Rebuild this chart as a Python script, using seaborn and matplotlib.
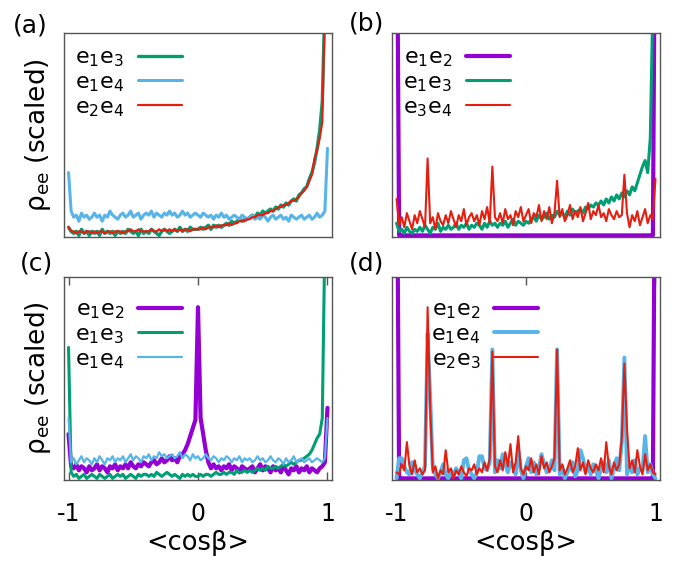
import numpy as np
import pandas as pd
import matplotlib
matplotlib.use("Agg")
import matplotlib.pyplot as plt
import seaborn as sns

nan = np.nan
# bin centres of <cos beta>
cos_beta = np.round(np.linspace(-1.0, 1.0, 101), 2)

# ---------------- panel (a) ----------------
a_e1e3 = [4, 2, 1, 2, 0, 3, 1, 2, 0, 2,
          1, 2, 0, 3, 1, 2, 1, 2, 0, 2,
          1, 2, 1, 3, 2, 1, 2, 0, 3, 1,
          2, 1, 3, 2, 1, 0, 2, 3, 2, 1,
          2, 3, 2, 4, 2, 3, 2, 4, 3, 3,
          3, 4, 3, 4, 5, 3, 5, 4, 5, 4,
          5, 6, 5, 7, 6, 7, 8, 7, 8, 8,
          9, 10, 9, 11, 10, 12, 11, 12, 13, 12,
          14, 13, 15, 14, 16, 15, 17, 18, 17, 20,
          21, 23, 24, 28, 31, 36, 43, 52, 66, 115,
          nan]
a_e1e4 = [31, 12, 9, 10, 7, 11, 9, 10, 8, 9,
          11, 9, 10, 7, 10, 9, 12, 10, 9, 8,
          10, 11, 9, 10, 12, 9, 10, 11, 8, 10,
          11, 10, 12, 9, 11, 10, 9, 11, 10, 12,
          10, 11, 9, 10, 12, 10, 11, 9, 10, 11,
          10, 9, 11, 10, 9, 10, 8, 10, 9, 11,
          9, 10, 8, 9, 10, 9, 8, 10, 9, 8,
          9, 10, 8, 9, 8, 10, 9, 7, 9, 10,
          8, 9, 10, 8, 9, 7, 10, 9, 8, 9,
          10, 8, 9, 10, 8, 9, 11, 9, 10, 12,
          43]
a_e2e4 = [4, 2, 2, 1, 2, 2, 1, 2, 2, 1,
          2, 1, 2, 2, 1, 2, 2, 1, 2, 2,
          2, 1, 2, 2, 3, 2, 2, 3, 2, 2,
          2, 2, 3, 2, 2, 3, 2, 3, 2, 3,
          2, 3, 2, 3, 2, 3, 3, 2, 3, 3,
          3, 3, 4, 3, 4, 4, 4, 5, 4, 5,
          5, 5, 6, 5, 6, 6, 7, 7, 7, 8,
          8, 9, 9, 10, 10, 10, 11, 11, 12, 12,
          13, 14, 14, 15, 15, 16, 17, 17, 18, 19,
          21, 22, 24, 27, 30, 38, 42, 48, 56, 115,
          nan]

# ---------------- panel (b) ----------------
b_e1e2 = [200] + [0] * 99 + [200]
b_e1e3 = [6, 2, 3, 1, 4, 2, 1, 3, 2, 4,
          2, 5, 3, 1, 4, 3, 6, 2, 4, 3,
          5, 3, 4, 6, 3, 5, 4, 6, 3, 5,
          4, 6, 5, 3, 6, 4, 7, 5, 6, 4,
          6, 5, 7, 4, 6, 8, 5, 7, 6, 5,
          7, 6, 8, 9, 7, 10, 8, 9, 11, 8,
          10, 9, 12, 10, 11, 9, 12, 10, 13, 11,
          12, 13, 11, 14, 13, 15, 14, 16, 15, 17,
          15, 18, 16, 19, 17, 20, 18, 21, 19, 22,
          20, 24, 22, 26, 30, 34, 37, 31, 48, 115,
          nan]
b_e3e4 = [18, 5, 9, 4, 11, 7, 3, 10, 6, 12,
          8, 4, 38, 6, 9, 3, 11, 7, 5, 10,
          6, 12, 8, 4, 10, 7, 13, 5, 9, 11,
          7, 10, 5, 12, 8, 14, 6, 34, 9, 7,
          11, 6, 13, 8, 10, 5, 12, 9, 14, 7,
          10, 13, 6, 11, 9, 15, 7, 12, 8, 14,
          6, 11, 27, 9, 13, 7, 10, 15, 8, 12,
          9, 14, 7, 11, 16, 8, 12, 10, 15, 9,
          11, 7, 13, 10, 8, 12, 9, 10, 30, 11,
          4, 10, 7, 12, 5, 9, 13, 6, 10, 8,
          28]

# ---------------- panel (c) ----------------
c_e1e2 = [22, 6, 5, 7, 4, 6, 5, 3, 6, 4,
          5, 7, 4, 6, 5, 3, 6, 5, 7, 4,
          6, 5, 7, 5, 8, 6, 5, 7, 6, 8,
          7, 6, 8, 9, 7, 8, 10, 8, 9, 11,
          9, 10, 8, 11, 12, 14, 17, 21, 25, 29,
          85, 30, 22, 14, 8, 5, 7, 5, 6, 4,
          6, 5, 7, 4, 6, 5, 3, 6, 5, 4,
          5, 6, 3, 5, 7, 4, 6, 5, 3, 6,
          4, 5, 3, 6, 4, 2, 5, 4, 6, 3,
          5, 4, 6, 3, 5, 4, 3, 5, 6, 8,
          35]
c_e1e3 = [65, 3, 1, 2, 0, 1, 2, 0, 1, 2,
          1, 0, 2, 1, 0, 1, 2, 0, 1, 2,
          1, 2, 0, 1, 2, 1, 0, 2, 1, 2,
          2, 1, 2, 1, 3, 2, 1, 2, 3, 2,
          1, 2, 1, 0, 2, 1, 2, 1, 2, 1,
          1, 2, 1, 2, 2, 1, 2, 3, 2, 2,
          3, 2, 3, 3, 2, 4, 3, 3, 4, 3,
          4, 3, 4, 5, 4, 5, 4, 6, 5, 5,
          6, 5, 6, 7, 6, 7, 8, 7, 8, 9,
          9, 10, 11, 12, 14, 17, 20, 22, 30, 120,
          nan]
c_e1e4 = [30, 8, 10, 7, 9, 11, 8, 10, 9, 7,
          10, 8, 11, 9, 7, 10, 9, 11, 8, 10,
          9, 11, 8, 10, 12, 9, 11, 10, 8, 11,
          10, 12, 9, 11, 10, 13, 11, 12, 10, 11,
          12, 10, 11, 13, 10, 12, 11, 9, 12, 10,
          11, 9, 10, 12, 10, 9, 11, 10, 8, 10,
          9, 11, 10, 8, 10, 9, 11, 8, 10, 9,
          10, 8, 9, 11, 9, 10, 8, 9, 11, 9,
          8, 10, 9, 7, 10, 8, 9, 11, 8, 9,
          10, 8, 9, 10, 8, 9, 10, 9, 8, 10,
          30]

# ---------------- panel (d) ----------------
d_e1e2 = [200] + [0] * 99 + [200]
d_e1e4 = [0, 10, 10, 6, 3, 2, 8, 4, 2, 0,
          3, 6, 72, 40, 5, 2, 0, 3, 7, 2,
          0, 4, 1, 5, 3, 0, 9, 10, 4, 2,
          0, 3, 11, 11, 5, 4, 8, 64, 3, 9,
          5, 12, 7, 3, 8, 6, 2, 14, 4, 0,
          6, 10, 3, 8, 2, 5, 12, 7, 3, 4,
          9, 4, 64, 2, 6, 0, 3, 5, 8, 1,
          4, 14, 10, 3, 6, 2, 7, 4, 0, 5,
          8, 3, 9, 0, 5, 10, 4, 18, 60, 2,
          6, 3, 9, 2, 5, 4, 21, 3, 7, 2,
          0]
d_e2e3 = [3, 2, 7, 4, 18, 6, 2, 9, 3, 5,
          2, 4, 85, 35, 3, 6, 0, 4, 2, 14,
          3, 5, 0, 4, 2, 6, 3, 1, 5, 4,
          7, 2, 5, 3, 8, 4, 10, 63, 6, 3,
          9, 4, 13, 6, 17, 3, 8, 21, 5, 2,
          6, 4, 10, 3, 7, 2, 11, 5, 8, 3,
          6, 10, 64, 4, 7, 2, 5, 9, 3, 6,
          15, 4, 8, 2, 9, 5, 3, 7, 4, 10,
          3, 18, 6, 2, 8, 4, 7, 20, 57, 25,
          5, 9, 3, 14, 6, 2, 12, 4, 7, 3,
          2]

tick_vals = [-1, 0, 1]
tick_labels = ["-1", "0", "1"]
panel_tags = ["(a)", "(b)", "(c)", "(d)"]

PURPLE, GREEN, BLUE, RED = "#9400D3", "#009E73", "#56B4E9", "#E51E10"
LBL = {k: r"$\mathregular{e_%s e_%s}$" % (k[1], k[3]) for k in
       ["e1e2", "e1e3", "e1e4", "e2e4", "e3e4", "e2e3"]}

sns.set_theme(style="white")
plt.rcParams["font.family"] = ["DejaVu Sans"]
plt.rcParams["mathtext.fontset"] = "dejavusans"
plt.rcParams["text.color"] = "black"
plt.rcParams["xtick.color"] = "black"

W, H = 685, 561
fig = plt.figure(figsize=(W / 100, H / 100), dpi=100)


def add_ax(l, t, r, b):
    return fig.add_axes([l / W, 1 - b / H, (r - l) / W, (b - t) / H])


axa = add_ax(64, 33, 332, 237)
axb = add_ax(392, 33, 660, 237)
axc = add_ax(64, 277, 332, 480)
axd = add_ax(392, 277, 660, 480)

panels = [
    (axa, [("e1e3", a_e1e3, GREEN, 2.4), ("e1e4", a_e1e4, BLUE, 2.2), ("e2e4", a_e2e4, RED, 1.6)], (0.041, 0.93)),
    (axb, [("e1e2", b_e1e2, PURPLE, 3.0), ("e1e3", b_e1e3, GREEN, 2.2), ("e3e4", b_e3e4, RED, 1.5)], (0.041, 0.93)),
    (axc, [("e1e2", c_e1e2, PURPLE, 3.0), ("e1e3", c_e1e3, GREEN, 2.2), ("e1e4", c_e1e4, BLUE, 1.6)], (0.041, 0.89)),
    (axd, [("e1e2", d_e1e2, PURPLE, 3.0), ("e1e4", d_e1e4, BLUE, 2.8), ("e2e3", d_e2e3, RED, 1.5)], (0.146, 0.89)),
]

for i, (ax, series, anchor) in enumerate(panels):
    for name, vals, col, lw in series:
        df = pd.DataFrame({"x": cos_beta, "y": np.array(vals, dtype=float)})
        sns.lineplot(data=df, x="x", y="y", ax=ax, color=col, lw=lw,
                     label=LBL[name], estimator=None, sort=False)
    ax.set_xlim(-1.035, 1.035)
    ax.set_ylim(-0.8, 100)
    ax.set_yticks([])
    ax.set_xlabel("")
    ax.set_ylabel("")
    for sp in ax.spines.values():
        sp.set_color("#555555")
        sp.set_linewidth(1.0)
    if i < 2:
        ax.set_xticks([])
    else:
        ax.set_xticks(tick_vals)
        ax.set_xticklabels(tick_labels, fontsize=17)
        ax.tick_params(axis="x", direction="in", top=True, bottom=True,
                       length=6, width=1, color="#555555", labelcolor="black", pad=16)
    leg = ax.legend(loc="upper left", bbox_to_anchor=anchor, frameon=False,
                    markerfirst=False, handlelength=2.0, handletextpad=0.6,
                    labelspacing=0.15, borderpad=0, borderaxespad=0, fontsize=16)
    for t in leg.get_texts():
        t.set_color("black")

# panel tags
for tag, (px, py) in zip(panel_tags, [(30, 26), (367, 24), (37, 264), (367, 263)]):
    fig.text(px / W, 1 - py / H, tag, fontsize=18, ha="center", va="center", color="black")

# y labels
for cy in [135, 378]:
    fig.text(38 / W, 1 - cy / H, r"$\mathregular{\rho_{ee}}$ (scaled)", rotation=90,
             fontsize=19, ha="center", va="center", color="black")
# x labels
for cx in [198, 526]:
    fig.text(cx / W, 1 - 543 / H, "<cosβ>", fontsize=18.5, ha="center", va="center", color="black")

fig.savefig("out.png", dpi=100)
